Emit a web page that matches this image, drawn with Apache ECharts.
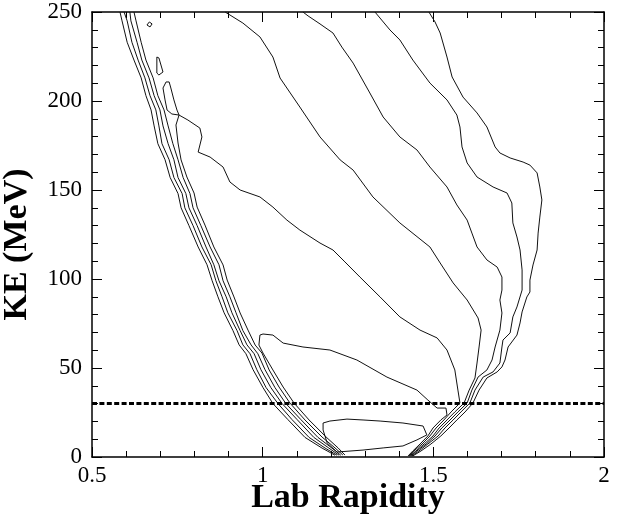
<!DOCTYPE html>
<html><head><meta charset="utf-8">
<script src="https://cdn.jsdelivr.net/npm/echarts@6.0.0/dist/echarts.min.js"></script>
<style>html,body{margin:0;padding:0;background:#fff}#chart{width:625px;height:518px}</style>
</head><body><div id="chart"></div>
<script>
// Axis ticks
const xTicks = [0.5, 1, 1.5, 2];
const yTicks = [0, 50, 100, 150, 200, 250];
const xTitle = 'Lab Rapidity';
const yTitle = 'KE (MeV)';
const cutKE = 30;

// Left bundle (outer four levels, left flank)
const level1Left = [[0.582,250],[0.588,245],[0.603,233],[0.623,223],[0.644,213],[0.658,203],[0.673,195],[0.682,186],[0.693,176],[0.714,167],[0.729,157],[0.752,148],[0.761,140],[0.784,130],[0.811,118],[0.837,108],[0.852,99],[0.869,90],[0.887,81],[0.913,71],[0.931,63],[0.951,58],[0.972,49],[1.001,39],[1.030,30],[1.074,21],[1.124,11],[1.174,5],[1.212,1]];
const level2Left = [[0.594,250],[0.603,245],[0.617,233],[0.635,223],[0.655,213],[0.670,203],[0.687,195],[0.696,186],[0.705,176],[0.726,167],[0.740,157],[0.764,148],[0.772,140],[0.796,130],[0.822,118],[0.849,108],[0.863,99],[0.881,90],[0.898,81],[0.925,71],[0.942,63],[0.963,58],[0.983,49],[1.010,39],[1.045,30],[1.086,21],[1.136,11],[1.183,5],[1.218,1]];
const level3Left = [[0.611,250],[0.614,245],[0.632,233],[0.646,223],[0.667,213],[0.682,203],[0.699,195],[0.708,186],[0.723,176],[0.740,167],[0.752,157],[0.775,148],[0.784,140],[0.808,130],[0.834,118],[0.857,108],[0.872,99],[0.893,90],[0.910,81],[0.934,71],[0.954,63],[0.975,58],[0.995,49],[1.024,39],[1.057,30],[1.101,21],[1.150,11],[1.194,5],[1.224,1]];
const level4Left = [[0.623,250],[0.629,245],[0.644,233],[0.658,223],[0.679,213],[0.693,203],[0.711,195],[0.723,186],[0.737,176],[0.752,167],[0.767,157],[0.787,148],[0.796,140],[0.819,130],[0.846,118],[0.872,108],[0.884,99],[0.904,90],[0.922,81],[0.942,71],[0.966,63],[0.986,58],[1.007,49],[1.036,39],[1.068,30],[1.112,21],[1.162,11],[1.203,5],[1.229,1]];

// Right flanks of the outer four levels
const level1Right = [[1.487,250],[1.505,244.4],[1.520,238.2],[1.540,224.7],[1.555,213.5],[1.587,202.2],[1.628,193.3],[1.657,185.4],[1.681,174.2],[1.695,170.8],[1.725,168.0],[1.763,165.7],[1.783,164.0],[1.804,159.6],[1.812,151.7],[1.818,144.4],[1.812,134.8],[1.807,125.8],[1.804,116.3],[1.792,107.9],[1.783,99.4],[1.783,92.7],[1.774,89.9],[1.760,81.5],[1.754,75.3],[1.745,68.5],[1.719,61.8],[1.710,54.5],[1.701,50.6],[1.687,47.8],[1.657,44.4],[1.634,37.6],[1.616,30.3],[1.593,25.3],[1.569,20.8],[1.546,16.3],[1.522,11.8],[1.493,7.3],[1.464,3.4],[1.440,0.6]];
const level2Right = [[1.329,250],[1.373,239.9],[1.402,234.3],[1.440,223.0],[1.490,210.1],[1.540,200.6],[1.569,192.1],[1.578,185.4],[1.584,174.2],[1.599,165.2],[1.628,157.3],[1.675,151.7],[1.716,148.3],[1.730,142.7],[1.733,131.5],[1.745,123.6],[1.754,116.3],[1.760,105.1],[1.760,93.8],[1.745,84.3],[1.733,78.7],[1.725,69.7],[1.704,65.7],[1.701,61.8],[1.695,52.8],[1.675,47.8],[1.646,44.9],[1.622,37.6],[1.607,30.3],[1.581,25.3],[1.558,20.8],[1.534,16.3],[1.514,11.8],[1.484,7.3],[1.458,3.4],[1.437,0.6]];
const level3Right = [[1.118,250],[1.133,247.8],[1.168,243.3],[1.206,238.2],[1.232,230.3],[1.265,221.3],[1.314,204.5],[1.353,191.0],[1.402,179.8],[1.452,172.5],[1.490,162.9],[1.540,151.7],[1.569,141.6],[1.599,133.1],[1.613,125.8],[1.628,118.0],[1.657,110.7],[1.687,106.7],[1.701,101.1],[1.701,93.8],[1.695,88.2],[1.701,80.9],[1.695,71.3],[1.681,61.8],[1.672,54.5],[1.657,48.9],[1.631,44.9],[1.613,37.6],[1.599,30.3],[1.572,25.3],[1.549,20.8],[1.525,16.3],[1.505,11.8],[1.479,7.3],[1.452,3.4],[1.434,0.6]];
const level4Right = [[0.890,250],[0.942,243.8],[0.992,236.0],[1.030,224.7],[1.051,212.9],[1.109,196.6],[1.168,179.8],[1.227,166.9],[1.265,161.2],[1.323,146.1],[1.402,131.5],[1.490,118.0],[1.520,109.0],[1.558,97.8],[1.599,88.2],[1.631,78.1],[1.640,71.3],[1.634,61.8],[1.628,52.8],[1.622,44.4],[1.605,37.6],[1.590,30.3],[1.563,25.3],[1.540,20.8],[1.517,16.3],[1.499,11.8],[1.473,7.3],[1.449,3.4],[1.431,0.6]];

// Level 5: up the left flank to a saddle, then across and down the right flank
const level5 = [[1.235,1.1],[1.212,5.1],[1.174,11.2],[1.124,20.8],[1.080,30.3],[1.048,39.3],[1.019,48.9],[0.998,58.4],[0.978,62.9],[0.957,71.3],[0.934,80.9],[0.916,89.9],[0.896,99.4],[0.884,107.9],[0.857,118],[0.831,130.3],[0.808,140.4],[0.799,148.3],[0.778,157.3],[0.761,166.9],[0.752,176.4],[0.746,186.5],[0.755,192.1],[0.781,189.3],[0.816,184.8],[0.822,179.8],[0.811,171.3],[0.846,168.5],[0.884,162.9],[0.904,154.5],[0.934,150.0],[0.992,146.1],[1.030,140.4],[1.071,133.1],[1.109,127.5],[1.168,120.2],[1.206,116.3],[1.241,109.6],[1.285,101.1],[1.344,89.9],[1.402,78.7],[1.461,71.3],[1.511,66.9],[1.540,60.1],[1.563,48.9],[1.572,37.6],[1.578,30.3],[1.552,25.3],[1.531,20.8],[1.508,16.3],[1.490,11.8],[1.467,7.3],[1.443,3.4],[1.429,0.6]];
const level5Loop = [[0.755,192.1],[0.734,192.7],[0.720,194.9],[0.714,200.6],[0.708,207.3],[0.717,210.7],[0.726,210.7],[0.731,207.3],[0.740,200.6],[0.749,194.9],[0.755,192.1]];
const level6 = [[1.241,1.1],[1.221,5.1],[1.186,11.2],[1.136,20.8],[1.092,30.3],[1.060,39.3],[1.030,48.9],[1.001,58.4],[0.989,62.9],[0.992,68.5],[1.001,69.1],[1.030,68.5],[1.060,64.0],[1.118,61.8],[1.197,60.1],[1.276,54.5],[1.364,44.9],[1.452,37.6],[1.484,32.0],[1.511,27.5],[1.537,27.5],[1.540,23.6],[1.522,20.8],[1.499,16.3],[1.484,11.8],[1.461,7.3],[1.440,3.4],[1.426,0.6]];
const level7Island = [[1.177,19.1],[1.197,20.2],[1.247,21.3],[1.294,20.8],[1.344,20.2],[1.411,19.1],[1.470,17.4],[1.481,12.4],[1.452,9.6],[1.411,6.2],[1.353,5.1],[1.294,3.9],[1.218,2.8],[1.189,7.9],[1.177,15.2],[1.177,19.1]];
const smallIslandA = [[0.661,242.7],[0.668,244.4],[0.676,243.3],[0.670,241.6],[0.661,242.7]];
const smallIslandB = [[0.690,224.7],[0.696,224.2],[0.708,216.3],[0.696,214.6],[0.690,215.7],[0.690,224.7]];

const contours = [level1Left, level2Left, level3Left, level4Left, level1Right, level2Right, level3Right, level4Right, level5, level5Loop, level6, level7Island, smallIslandA, smallIslandB];

const FONT = 'Liberation Serif';
const chart = echarts.init(document.getElementById('chart'), null, {renderer: 'canvas'});

function makeX(pos, showLabel) {
  return {
    type: 'value', position: pos,
    min: xTicks[0], max: xTicks[xTicks.length - 1], interval: xTicks[1] - xTicks[0],
    axisLine: {show: true, onZero: false, lineStyle: {color: '#000', width: 1.5}},
    axisTick: {show: true, inside: true, length: 10, lineStyle: {color: '#000', width: 1}},
    minorTick: {show: true, splitNumber: 5, length: 6, lineStyle: {color: '#000', width: 1}},
    splitLine: {show: false}, minorSplitLine: {show: false},
    axisLabel: {show: showLabel, color: '#000', fontFamily: FONT, fontSize: 23, margin: 7,
      formatter: v => String(v)},
    name: showLabel ? xTitle : '', nameLocation: 'middle', nameGap: 24, nameMoveOverlap: false,
    nameTextStyle: {color: '#000', fontFamily: FONT, fontSize: 34, fontWeight: 'bold', verticalAlign: 'top'}
  };
}
function makeY(pos, showLabel) {
  return {
    type: 'value', position: pos,
    min: yTicks[0], max: yTicks[yTicks.length - 1], interval: yTicks[1] - yTicks[0],
    axisLine: {show: true, onZero: false, lineStyle: {color: '#000', width: 1.5}},
    axisTick: {show: true, inside: true, length: 10, lineStyle: {color: '#000', width: 1}},
    minorTick: {show: true, splitNumber: 5, length: 6, lineStyle: {color: '#000', width: 1}},
    splitLine: {show: false}, minorSplitLine: {show: false},
    axisLabel: {show: showLabel, color: '#000', fontFamily: FONT, fontSize: 23, margin: 10},
    name: showLabel ? yTitle : '', nameLocation: 'middle', nameGap: 58, nameRotate: 90, nameMoveOverlap: false,
    nameTextStyle: {color: '#000', fontFamily: FONT, fontSize: 34, fontWeight: 'bold', padding: [0, 20, 0, 0]}
  };
}

const series = contours.map(d => ({
  type: 'line', data: d, xAxisIndex: 0, yAxisIndex: 0,
  symbol: 'none', showSymbol: false, silent: true, animation: false,
  lineStyle: {color: '#111', width: 1}, z: 2
}));
series.push({
  type: 'line', data: [[xTicks[0], cutKE], [xTicks[xTicks.length - 1], cutKE]],
  xAxisIndex: 0, yAxisIndex: 0, symbol: 'none', silent: true, animation: false,
  lineStyle: {color: '#000', width: 3, type: [5, 2.4]}, z: 3
});

chart.setOption({
  backgroundColor: '#fff',
  animation: false,
  grid: {left: 92, right: 21, top: 12, bottom: 61, containLabel: false, outerBoundsMode: 'none'},
  xAxis: [makeX('bottom', true), makeX('top', false)],
  yAxis: [makeY('left', true), makeY('right', false)],
  series: series
});
</script>
</body></html>
